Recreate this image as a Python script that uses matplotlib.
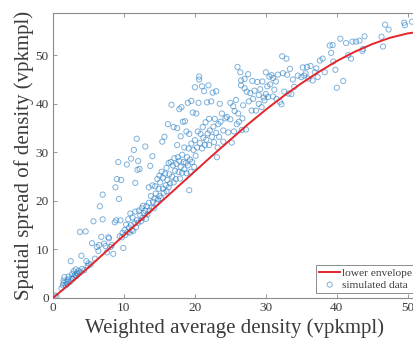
import matplotlib
matplotlib.use("Agg")
import matplotlib.pyplot as plt

# lower envelope
env_x = [0, 2.5, 5, 7.5, 10, 12.5, 15, 17.5, 20, 22.5, 25, 27.5, 30, 32.5,
         35, 37.5, 40, 42.5, 45, 47.5, 50, 52]
env_y = [0, 3.1, 6.3, 9.6, 12.9, 16.2, 19.5, 22.8, 26.1, 29.4, 32.6, 35.8,
         38.8, 41.6, 44.2, 46.6, 48.8, 50.7, 52.3, 53.6, 54.5, 54.9]

# simulated data (x = weighted average density, y = spatial spread)
sim_x = [0.3, 0.5, 1.2, 1.4, 1.5, 1.5, 1.6, 1.8, 1.9, 2.0, 2.1, 2.2, 2.4, 2.5,
         2.6, 2.7, 2.8, 2.9, 3.0, 3.1, 3.2, 3.3, 3.4, 3.5, 3.6, 3.8, 3.9, 4.0,
         4.1, 4.4, 4.6, 4.7, 4.9, 5.0,
         5.3, 5.5, 5.7, 5.9, 6.2, 6.4, 6.6, 6.5, 6.8, 7.0, 7.0, 7.2, 7.4, 7.6,
         7.8, 7.9, 8.1, 8.3, 8.5, 8.7, 8.9, 8.8, 9.0, 9.2, 9.3, 9.5, 9.6, 9.4,
         9.7, 9.9, 9.8,
         10.1, 10.2, 10.3, 10.4, 10.5, 10.6, 10.7, 10.8, 10.9, 11.0, 11.0, 11.1,
         11.2, 11.3, 11.4, 11.5, 11.6, 11.6, 11.7, 11.8, 11.9, 11.8, 12.0, 12.0,
         12.1, 12.2, 12.3, 12.4, 12.5, 12.6, 12.7, 12.8, 13.0, 13.0, 13.1, 13.2,
         13.3, 13.5, 13.5, 13.6, 13.7, 13.8, 13.9, 14.0, 14.0, 14.1, 14.2, 14.3,
         14.4, 14.5, 14.6, 14.7, 14.8, 14.9, 15.0, 15.0,
         15.1, 15.2, 15.3, 15.4, 15.5, 15.5, 15.6, 15.7, 15.8, 15.9, 16.0, 16.0,
         16.1, 16.2, 16.3, 16.3, 16.4, 16.5, 16.6, 16.7, 16.8, 16.9, 17.0, 17.0,
         17.1, 17.2, 17.3, 17.4, 17.5, 17.5, 17.6, 17.7, 17.8, 17.8, 17.9, 18.0,
         18.0, 18.1, 18.2, 18.2, 18.3, 18.4, 18.5, 18.5, 18.6, 18.7, 18.8, 18.8,
         18.9, 19.0, 19.0, 19.1, 19.2, 19.2, 19.3, 19.4, 19.5, 19.5, 19.6, 19.7,
         19.8, 19.9,
         20.0, 20.0, 20.1, 20.2, 20.3, 20.4, 20.5, 20.6, 20.6, 20.7, 20.8, 21.0,
         21.0, 21.1, 21.2, 21.3, 21.4, 21.5, 21.6, 21.7, 21.8, 21.9, 22.0, 22.0,
         22.1, 22.3, 22.4, 22.5, 22.6, 22.7, 22.8, 23.0, 23.0, 23.1, 23.2, 23.3,
         23.4, 23.5, 23.6, 23.8, 24.0, 24.0, 24.3, 24.5, 24.7, 25.0, 25.0, 25.2,
         25.4, 25.5, 25.6, 25.8, 25.9, 26.0, 26.1, 26.2, 26.4, 26.5, 26.5, 26.6,
         26.7, 26.8, 27.0, 27.0, 27.2, 27.3, 27.5, 27.6, 27.8, 28.0, 28.1, 28.2,
         28.4, 28.6, 28.8, 29.0, 29.0, 29.2, 29.4, 29.5, 29.7, 29.8, 30.0, 30.0,
         30.2, 30.3, 30.5, 30.6, 30.8, 31.0, 31.0, 31.2, 31.4, 31.5, 31.7, 32.0,
         32.2, 32.3, 32.4, 32.6, 32.9, 33.0, 33.2, 33.4, 33.6, 33.8, 34.0, 34.5,
         35.0, 35.2, 35.4,
         35.6, 35.8, 36.0, 36.3, 36.6, 36.9, 37.1, 37.3, 37.6, 38.0, 38.3, 39.0,
         39.2, 39.4, 39.5, 39.8, 40.0, 40.5, 40.9, 41.3, 41.6, 42.0, 42.2, 42.7,
         43.2, 43.6, 43.7, 43.9, 46.3, 46.5, 46.8, 47.3, 49.5, 49.6, 50.6]
sim_y = [0.5, 0.3, 2.0, 2.6, 3.1, 3.6, 4.3, 2.6, 3.3, 2.9, 3.8, 4.4, 3.3, 7.6,
         4.0, 4.9, 3.9, 5.5, 4.3, 4.8, 5.9, 4.5, 5.2, 4.9, 5.6, 13.6, 5.3, 8.7,
         6.0, 5.7, 13.7, 7.6, 6.6, 7.1,
         6.9, 11.3, 15.8, 8.1, 10.5, 9.7, 18.9, 10.9, 12.6, 21.3, 16.2, 11.2,
         10.7, 9.4, 12.5, 12.3, 10.5, 10.9, 9.1, 15.6, 16.0, 22.8, 24.5, 28.0,
         20.4, 16.0, 24.3, 12.7, 12.5, 10.3, 13.4,
         14.0, 13.0, 15.1, 27.5, 13.6, 16.2, 14.5, 13.5, 17.4, 15.0, 28.7, 14.0,
         16.6, 13.8, 30.5, 15.4, 17.8, 23.7, 14.6, 32.8, 26.4, 16.0, 28.2, 15.5,
         18.0, 26.6, 17.0, 15.8, 18.5, 16.5, 19.0, 17.5, 31.2, 18.0, 16.3, 18.9,
         17.2, 22.8, 19.6, 18.0, 27.2, 21.0, 18.6, 29.2, 23.2, 19.8, 18.5, 20.5,
         23.0, 21.5, 19.5, 24.5, 20.3, 22.5, 25.2, 21.0,
         23.8, 20.6, 26.0, 32.2, 22.5, 24.8, 21.7, 33.2, 25.6, 23.2, 26.8, 22.0,
         24.3, 35.8, 27.8, 22.8, 25.5, 23.6, 28.0, 39.8, 25.0, 27.3, 23.8, 35.2,
         28.8, 26.2, 24.5, 27.6, 31.5, 35.0, 29.0, 26.0, 38.9, 28.2, 24.6, 33.3,
         27.0, 39.3, 29.5, 25.8, 36.3, 28.0, 31.0, 26.5, 36.4, 27.8, 34.3, 25.7,
         29.0, 40.2, 27.3, 30.8, 22.2, 33.8, 28.5, 26.0, 31.8, 40.6, 28.0, 38.2,
         30.5, 27.0,
         43.4, 32.5, 29.3, 38.0, 31.0, 34.3, 40.2, 45.0, 45.6, 31.9, 33.8, 43.6,
         30.8, 35.2, 33.0, 42.6, 31.5, 36.2, 32.6, 40.3, 33.9, 43.8, 36.9, 31.5,
         34.5, 40.5, 33.2, 42.3, 35.3, 32.1, 36.9, 42.6, 34.0, 29.0, 31.0, 35.8,
         33.2, 40.0, 36.3, 38.0, 34.5, 32.2, 37.0, 37.3, 34.1, 36.8, 40.2, 32.0,
         39.5, 34.3, 38.5, 40.8, 35.8, 47.6, 38.0, 36.3, 46.5, 44.8, 43.8, 34.6,
         37.0, 39.7, 43.2, 45.1, 34.7, 42.5, 46.1, 40.5, 42.2, 38.6, 44.7, 41.0,
         42.7, 38.6, 44.5, 40.0, 41.8, 43.0, 39.3, 44.6, 41.3, 40.7, 46.5, 42.0,
         43.6, 41.4, 45.6, 44.0, 45.9, 41.5, 45.3, 42.9, 44.6, 41.0, 46.0, 40.4,
         39.9, 49.8, 46.3, 42.5, 49.3, 46.0, 42.1, 47.2, 42.0, 45.0, 43.5, 45.8,
         45.5, 47.5, 45.8,
         46.3, 47.6, 45.2, 47.8, 44.8, 46.5, 47.3, 45.5, 48.9, 49.3, 46.5, 52.0,
         50.5, 52.1, 48.7, 47.0, 43.3, 53.4, 44.7, 52.5, 50.0, 49.3, 52.8, 52.8,
         53.0, 50.9, 51.3, 53.9, 53.8, 51.8, 56.3, 55.3, 56.7, 56.2, 56.9]

x_ticks = [0, 10, 20, 30, 40, 50]
y_ticks = [0, 10, 20, 30, 40, 50]

plt.rcParams['font.family'] = ['Liberation Serif', 'DejaVu Serif']
text_col = '#3c3c3c'
blue = '#2a7fc4'
red = '#e3262b'

fig = plt.figure(figsize=(4.14, 3.44), dpi=100)
ax = fig.add_axes([53 / 414, 46 / 344, 364 / 414, 285 / 344])

ax.plot(env_x, env_y, color=red, lw=1.4, label='lower envelope', zorder=3)
ax.scatter(sim_x, sim_y, s=14, facecolors='none', edgecolors=blue,
           linewidths=0.7, alpha=0.6, label='simulated data', zorder=2)

ax.set_xlim(0, 51.3)
ax.set_ylim(0, 58.7)
ax.set_xticks(x_ticks)
ax.set_yticks(y_ticks)
ax.tick_params(direction='in', top=True, right=True, length=3, width=0.6,
               colors='#888888', labelcolor=text_col, labelsize=9.5, pad=3)
for s in ax.spines.values():
    s.set_color('#8c8c8c')
    s.set_linewidth(0.8)

ax.set_xlabel('Weighted average density (vpkmpl)', fontsize=15,
              color=text_col, labelpad=3)
ax.set_ylabel('Spatial spread of density (vpkmpl)', fontsize=15,
              color=text_col, labelpad=1)

leg = ax.legend(loc='lower left', bbox_to_anchor=(316 / 414, 51 / 344),
                bbox_transform=fig.transFigure, borderaxespad=0,
                fontsize=8.2, frameon=True, fancybox=False, framealpha=1,
                edgecolor='#8c8c8c', labelspacing=0.15, borderpad=0.3,
                handlelength=1.8, handletextpad=0.15)
leg.get_frame().set_linewidth(0.7)
for t in leg.get_texts():
    t.set_color(text_col)

fig.savefig('out.png', dpi=100)
